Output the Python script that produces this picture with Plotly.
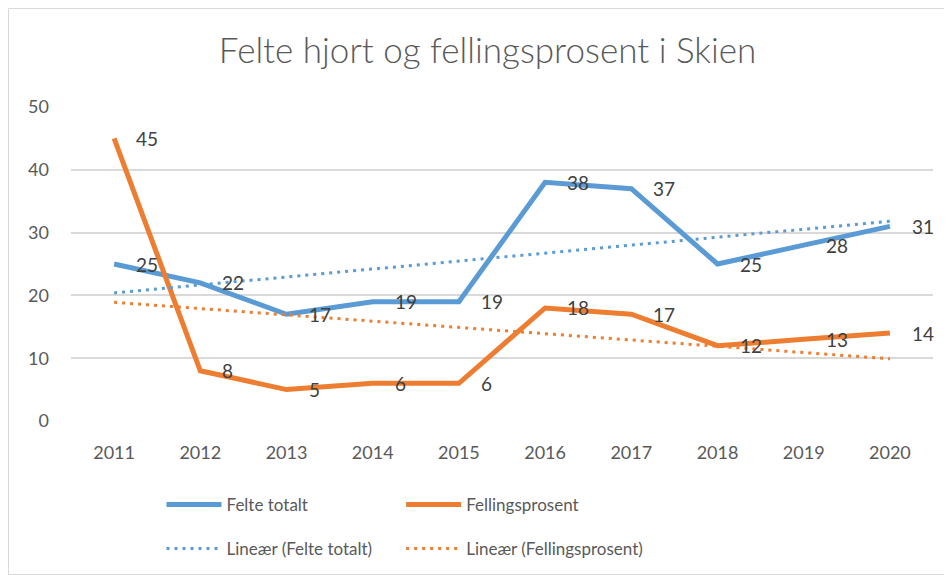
import plotly.graph_objects as go

years = ["2011", "2012", "2013", "2014", "2015", "2016", "2017", "2018", "2019", "2020"]
felte_totalt = [25, 22, 17, 19, 19, 38, 37, 25, 28, 31]
fellingsprosent = [45, 8, 5, 6, 6, 18, 17, 12, 13, 14]

# trend line end points (Excel linear trendlines)
trend_x = ["2011", "2020"]
trend_felte = [20.4, 31.8]
trend_felling = [18.9, 9.9]

blue = "#5B9BD5"
orange = "#ED7D31"
txt = "#595959"
font_family = "Lato, Open Sans, sans-serif"

fig = go.Figure()
fig.add_trace(go.Scatter(x=years, y=felte_totalt, mode="lines", name="Felte totalt",
                         line=dict(color=blue, width=5), legend="legend", showlegend=True))
fig.add_trace(go.Scatter(x=years, y=fellingsprosent, mode="lines", name="Fellingsprosent",
                         line=dict(color=orange, width=5), legend="legend2", showlegend=True))
fig.add_trace(go.Scatter(x=trend_x, y=trend_felte, mode="lines", name="Lineær (Felte totalt)",
                         line=dict(color=blue, width=3, dash="3px,5px"), legend="legend3",
                         showlegend=True))
fig.add_trace(go.Scatter(x=trend_x, y=trend_felling, mode="lines", name="Lineær (Fellingsprosent)",
                         line=dict(color=orange, width=3, dash="3px,5px"), legend="legend4",
                         showlegend=True))

# data labels to the right of each point (x given as category index)
for series in (felte_totalt, fellingsprosent):
    for i, y in enumerate(series):
        fig.add_annotation(x=i, y=y, text=str(y), showarrow=False, xanchor="left",
                           xshift=20, font=dict(size=19, color="#404040", family=font_family))

# page body has an 8px margin, so the figure is 8px smaller and shifted
W, H = 944, 567
L, T, R, B = 63, 99, 19, 154
pw, ph = W - L - R, H - T - B


def leg(x, y):
    return dict(orientation="h", x=x, y=y, xref="paper", yref="container",
                xanchor="left", yanchor="middle", itemwidth=55,
                font=dict(size=17, color=txt, family=font_family))


fig.update_layout(
    width=W, height=H,
    showlegend=True,
    paper_bgcolor="white", plot_bgcolor="white",
    margin=dict(l=L, r=R, t=T, b=B, autoexpand=False),
    title=dict(text="Felte hjort og fellingsprosent i Skien", x=0.508, xanchor="center",
               y=1 - 43 / H, yanchor="middle",
               font=dict(size=35, color=txt, family=font_family, weight=300)),
    font=dict(family=font_family, color=txt),
    legend=leg(0.105, 1 - 497 / H),
    legend2=leg(0.383, 1 - 497 / H),
    legend3=leg(0.105, 1 - 541 / H),
    legend4=leg(0.383, 1 - 541 / H),
    shapes=[dict(type="rect", xref="paper", yref="paper",
                 x0=(0.5 - L) / pw, x1=(W - 1 - L) / pw,
                 y0=-(B - 0.5) / ph, y1=(ph + T - 0.5) / ph,
                 line=dict(color="#D9D9D9", width=1))],
)
fig.update_xaxes(type="category", range=[-0.5, 9.5], showgrid=False, showline=False,
                 ticks="", tickfont=dict(size=18, color=txt), zeroline=False,
                 ticklabelstandoff=19)
fig.update_yaxes(range=[0, 50], dtick=10, showgrid=True, gridcolor="#D9D9D9", gridwidth=1.5,
                 zeroline=False, showline=False, ticks="", tickfont=dict(size=18, color=txt),
                 ticklabelstandoff=21)

fig.write_html("out.html")
